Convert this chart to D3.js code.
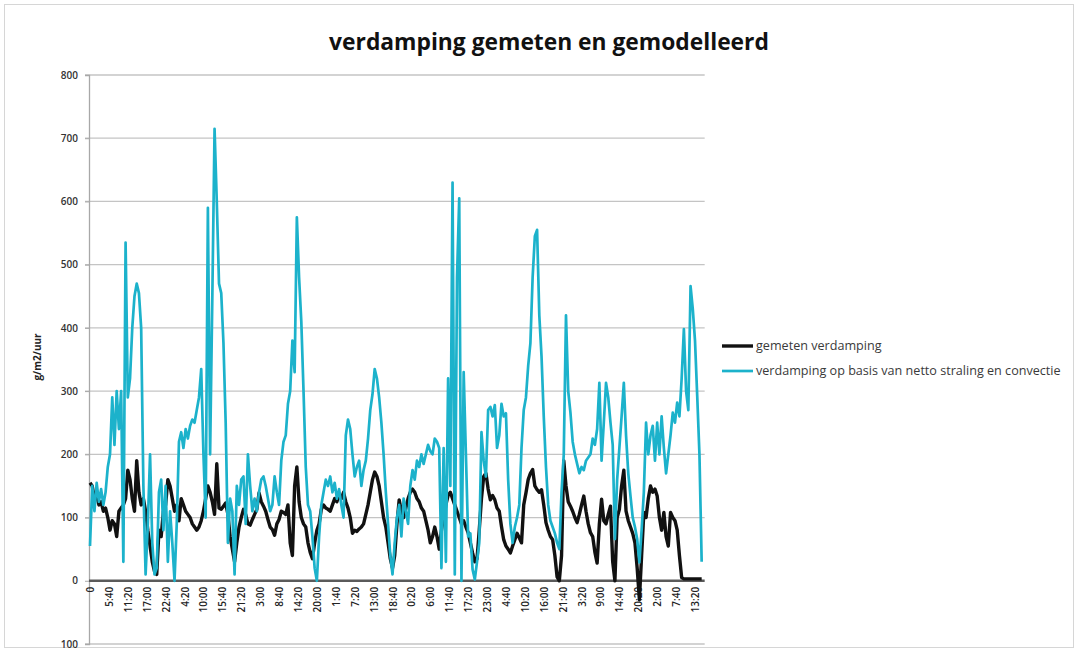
<!DOCTYPE html>
<html>
<head>
<meta charset="utf-8">
<script src="https://cdn.jsdelivr.net/npm/d3@7"></script>
<style>
  body { margin: 0; background: #ffffff; }
  svg { display: block; }
  text { font-family: "Open Sans", "Noto Sans", sans-serif; }
</style>
</head>
<body>
<svg id="chart" width="1078" height="652"></svg>
<script>
// ---- chart text ----
const chartTitle = "verdamping gemeten en gemodelleerd";
const yAxisTitle = "g/m2/uur";
const seriesNames = ["gemeten verdamping", "verdamping op basis van netto straling en convectie"];

// ---- x axis: one reading every 40 minutes, a label every 5h40 ----
const stepMinutes = 40;
const tickStepMinutes = 340;
const xTickLabels = ["0","5:40","11:20","17:00","22:40","4:20","10:00","15:40","21:20","3:00","8:40",
  "14:20","20:00","1:40","7:20","13:00","18:40","0:20","6:00","11:40","17:20","23:00","4:40",
  "10:20","16:00","21:40","3:20","9:00","14:40","20:20","2:00","7:40","13:20"];

// ---- y axis ----
const yTickValues = [-100, 0, 100, 200, 300, 400, 500, 600, 700, 800];
const yTickLabels = ["100", "0", "100", "200", "300", "400", "500", "600", "700", "800"];

// ---- measured evaporation (g/m2/uur) ----
const gemeten = [
  155,150,130,135,120,125,110,115,100,80,
  95,90,70,110,115,120,130,175,160,130,
  110,190,140,120,130,110,80,55,30,15,
  10,80,70,110,120,160,150,130,110,120,
  95,130,120,110,105,100,90,85,80,85,
  95,110,130,150,140,125,105,185,115,113,
  118,123,105,70,50,30,60,85,100,113,
  105,90,88,97,105,113,139,125,118,110,
  97,85,81,72,90,97,110,108,105,120,
  60,40,150,180,125,100,90,85,60,45,
  35,60,80,90,113,120,115,113,110,120,
  130,125,135,130,140,125,115,100,75,80,
  78,82,85,90,105,120,140,160,172,165,
  150,125,100,85,60,35,20,40,90,128,
  110,100,115,130,140,145,140,130,125,115,
  110,95,80,60,70,85,70,50,80,100,
  120,135,140,130,120,110,100,90,95,85,
  76,60,44,30,35,80,130,165,170,145,
  128,135,128,115,110,86,65,55,50,44,
  55,65,75,68,60,120,139,160,170,176,
  150,144,140,144,120,92,80,70,65,40,
  6,0,40,190,150,125,118,110,100,92,
  105,120,134,110,90,76,70,45,28,90,
  129,95,90,105,118,30,0,100,113,150,
  175,110,95,85,75,60,20,-30,40,108,
  100,130,150,140,145,134,100,80,108,70,
  55,108,100,95,80,40,5,3,3,3,
  3,3,3,3,3,3
];

// ---- modelled evaporation from net radiation and convection (g/m2/uur) ----
const gemodelleerd = [
  55,150,110,155,125,145,120,140,180,200,
  290,215,300,240,300,30,535,290,320,400,
  450,470,455,400,150,10,90,200,60,10,
  20,140,160,80,150,30,110,60,0,90,
  220,235,210,240,225,245,255,250,270,290,
  335,200,100,590,200,450,715,600,470,455,
  376,250,60,130,110,10,150,120,160,165,
  90,200,150,110,130,110,140,160,165,150,
  130,110,120,165,140,120,190,220,230,280,
  300,380,330,575,480,410,300,180,120,110,
  70,20,0,70,120,140,160,150,165,140,
  155,130,145,120,100,230,255,240,200,165,
  180,190,150,175,190,225,270,295,335,320,
  290,250,200,140,90,40,10,60,100,120,
  70,130,110,90,150,175,160,190,180,200,
  185,200,215,205,200,225,220,210,20,210,
  30,320,150,630,10,480,605,0,330,200,
  70,75,18,2,30,60,235,190,165,270,
  275,260,278,210,230,280,260,265,160,90,
  60,85,100,120,210,270,290,340,376,480,
  545,555,420,355,260,180,120,95,85,75,
  60,50,140,200,420,300,266,220,200,185,
  170,180,175,190,195,200,225,215,240,313,
  190,250,313,290,250,215,66,160,210,260,
  313,230,170,134,100,85,66,29,80,140,
  250,200,230,245,190,250,200,260,210,170,
  200,230,266,250,282,260,320,398,300,270,
  466,430,380,292,200,30
];

const colors = ["#111111", "#1cb2cb"];
const widths = [3.4, 2.7];

// ---- drawing ----
const svg = d3.select("#chart");

svg.append("rect")
  .attr("x", 4.5).attr("y", 4.5).attr("width", 1069).attr("height", 643)
  .attr("fill", "#ffffff").attr("stroke", "#d6d6d6");

const lastMinute = (gemodelleerd.length - 1) * stepMinutes;
const x = d3.scaleLinear().domain([0, tickStepMinutes * (xTickLabels.length - 1)]).range([90, 695]);
const y = d3.scaleLinear().domain([-100, 800]).range([644, 75]);

const xLeft = x(0) - 1;
const xRight = x(lastMinute) + 3;

// horizontal gridlines
svg.append("g")
  .selectAll("line")
  .data(yTickValues.filter(v => v !== 0))
  .join("line")
  .attr("x1", xLeft - 4).attr("x2", xRight)
  .attr("y1", d => y(d)).attr("y2", d => y(d))
  .attr("stroke", "#c4c4c4").attr("stroke-width", 1.3);

// y axis
const yAxis = svg.append("g")
  .attr("transform", `translate(${xLeft},0)`)
  .call(d3.axisLeft(y)
    .tickValues(yTickValues)
    .tickFormat((d, i) => yTickLabels[i])
    .tickSize(4)
    .tickPadding(7));
yAxis.select(".domain").attr("stroke", "#a8a8a8").attr("stroke-width", 1.3);
yAxis.selectAll(".tick line").attr("stroke", "#a8a8a8");
yAxis.selectAll(".tick text")
  .attr("font-size", 10).attr("font-weight", 600).attr("fill", "#333")
  .style("font-family", "'Open Sans', sans-serif");

// x axis at value 0
const xTickValues = xTickLabels.map((_, k) => k * tickStepMinutes);
const xAxis = svg.append("g")
  .attr("transform", `translate(0,${y(0)})`)
  .call(d3.axisBottom(x)
    .tickValues(xTickValues)
    .tickFormat((d, i) => xTickLabels[i])
    .tickSize(0)
    .tickSizeOuter(0));
xAxis.select(".domain")
  .attr("d", `M${xLeft},0H${xRight}`)
  .attr("stroke", "#5a5a5a").attr("stroke-width", 2.4);
xAxis.selectAll(".tick text")
  .attr("transform", "rotate(-90)")
  .attr("text-anchor", "end")
  .attr("x", -6).attr("y", 0).attr("dy", "0.35em")
  .attr("font-size", 10).attr("font-weight", 600).attr("fill", "#222")
  .style("font-family", "'Open Sans', sans-serif");

// series lines
const line = d3.line()
  .x((d, i) => x(i * stepMinutes))
  .y(d => y(d));

[gemeten, gemodelleerd].forEach((series, s) => {
  svg.append("path")
    .datum(series)
    .attr("d", line)
    .attr("fill", "none")
    .attr("stroke", colors[s])
    .attr("stroke-width", widths[s])
    .attr("stroke-linejoin", "round");
});

// title
svg.append("text")
  .attr("x", 549).attr("y", 50)
  .attr("text-anchor", "middle")
  .attr("font-size", 22.8).attr("font-weight", 700).attr("fill", "#111")
  .text(chartTitle);

// y axis title
svg.append("text")
  .attr("transform", "translate(41,357) rotate(-90)")
  .attr("text-anchor", "middle")
  .attr("font-size", 10).attr("font-weight", 700).attr("fill", "#222")
  .text(yAxisTitle);

// legend
const legend = svg.append("g");
seriesNames.forEach((name, s) => {
  const ly = 346 + s * 25;
  legend.append("line")
    .attr("x1", 722).attr("x2", 753).attr("y1", ly).attr("y2", ly)
    .attr("stroke", colors[s]).attr("stroke-width", widths[s]);
  legend.append("text")
    .attr("x", 756).attr("y", ly).attr("dy", "0.35em")
    .attr("font-size", 12.6).attr("fill", "#3a3a3a")
    .text(name);
});
</script>
</body>
</html>
